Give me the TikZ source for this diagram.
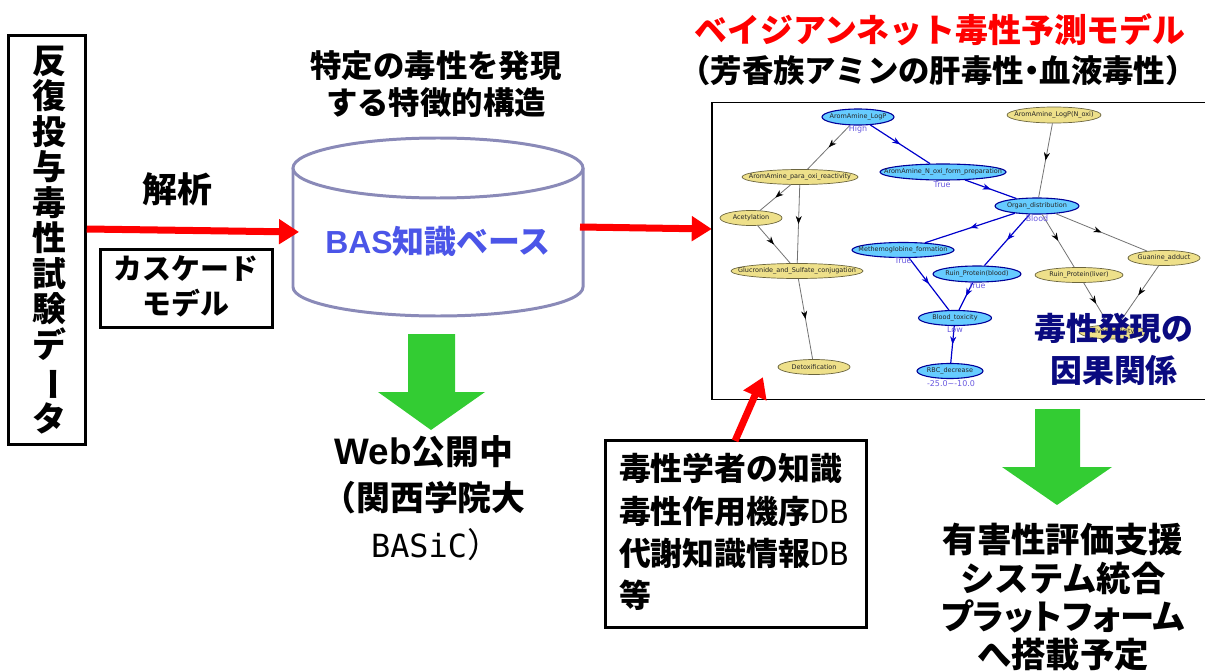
\documentclass[tikz,border=0pt]{standalone}
\usepackage{fontspec}
\setmainfont{Noto Sans CJK JP}
\newfontfamily\lat{DejaVu Sans}
\newfontfamily\arl{Liberation Sans}
\newfontfamily\mon{DejaVu Sans Mono}
\newfontfamily\pf[RawFeature=+palt]{Noto Sans CJK JP}
\usetikzlibrary{decorations.markings,arrows.meta,shapes.geometric}
\definecolor{navyt}{HTML}{0A0A80}
\definecolor{basblue}{HTML}{4B55E8}
\definecolor{cylc}{HTML}{8A8AB8}
\definecolor{nodeb}{HTML}{66CCFF}
\definecolor{nodey}{HTML}{EEE08A}
\definecolor{lab}{HTML}{6A5AE0}
\definecolor{gr}{HTML}{33CC33}
\newcommand{\T}[1]{\makebox[0pt]{#1}}
\tikzset{
  x=1bp,y=-1bp,
  tx/.style 2 args={inner sep=0,outer sep=0,align=center,font=\fontsize{#1}{#2}\selectfont\bfseries},
  box/.style={draw=black,line width=2.5pt,fill=white},
  by/.style={ellipse,draw=black!55!nodey,line width=.7pt,fill=nodey,inner sep=0,text=black!85,font=\lat\fontsize{6.5}{7}\selectfont},
  bb/.style={ellipse,draw=blue!60!black,line width=1.1pt,fill=nodeb,inner sep=0,text=black!85,font=\lat\fontsize{6.5}{7}\selectfont},
  lb/.style={inner sep=0,text=lab,font=\lat\fontsize{8}{9}\selectfont},
  ge/.style={draw=black!55,line width=.8pt,postaction={decorate},decoration={markings,mark=at position .5 with {\arrow[black,line width=.5pt]{Stealth[length=8bp,width=6bp]}}}},
  be/.style={draw=blue!80!black,line width=1.2pt,postaction={decorate},decoration={markings,mark=at position .5 with {\arrow[blue!80!black,line width=.5pt]{Stealth[length=8bp,width=6bp]}}}},
  redarr/.style={draw=red,line width=7bp,-{Triangle[length=20bp,width=24bp]}},
  grarr/.style={fill=gr,draw=none},
}
\begin{document}
\begin{tikzpicture}
\useasboundingbox (0,0) rectangle (1205,671);
% left box
\node[box,minimum width=77bp,minimum height=409bp] (left) at (47,240) {};
\node[tx={34}{35.6}] (lefttext) at (49,240) {反\\復\\投\\与\\毒\\性\\試\\験\\デ\\\rotatebox[origin=c]{-90}{ー}\\タ};
% cascade
\node[box,minimum width=172bp,minimum height=78bp] (casc) at (186.5,288.5) {};
\node[tx={29}{35}] (casctext) at (186,286) {カスケード\\モデル};
\node[tx={35}{35}] (kaiseki) at (177,189) {解析};
% cylinder
\coordinate (cylT) at (438,168);
\draw[cylc,line width=3pt,fill=white] (293,168) -- (293,287) arc[x radius=145,y radius=29,start angle=180,end angle=0] -- (583,168);
\draw[cylc,line width=3pt,fill=white] (cylT) ellipse[x radius=145,y radius=30];
\node[tx={32}{32},text=basblue] (bas) at (438,241) {{\arl BAS}知識ベース};
\coordinate (cylL) at (299,232);
\coordinate (cylR) at (580,227);
% red arrows
\draw[redarr] (left.east |- 0,229) -- (cylL);
\node[inner sep=0,minimum size=0] (frameL) at (712,229) {};
\draw[redarr] (cylR) -- (frameL);
% titles
\node[tx={33}{33},text=red] (title) at (940,30) {ベイジアンネット毒性予測モデル};
\node[tx={31.5}{32}] (sub) at (938,71) {（芳香族アミンの肝毒性\hspace{-.25em}・\hspace{-.25em}血液毒性）};
\node[tx={31.5}{37}] (feat) at (436,84) {特定の毒性を発現\\する特徴的構造};
% frame
\node[draw=black,line width=2pt,fill=white,minimum width=500bp,minimum height=297bp] (frame) at (962,251) {};
% graph nodes
\node[bb,minimum width=72bp,minimum height=16bp] (n1) at (858,117) {\T{AromAmine\_LogP}};
\node[by,minimum width=94bp,minimum height=16bp] (n2) at (1054,115) {\T{AromAmine\_LogP(N\_oxi)}};
\node[by,minimum width=116bp,minimum height=15bp] (n3) at (800,177) {\T{AromAmine\_para\_oxi\_reactivity}};
\node[bb,minimum width=126bp,minimum height=16bp] (n4) at (943,172) {\T{AromAmine\_N\_oxi\_form\_preparation}};
\node[by,minimum width=62bp,minimum height=15bp] (n5) at (751,218) {\T{Acetylation}};
\node[bb,minimum width=84bp,minimum height=16bp] (n6) at (1037,206) {\T{Organ\_distribution}};
\node[by,minimum width=132bp,minimum height=15bp] (n7) at (797,271) {\T{Glucronide\_and\_Sulfate\_conjugation}};
\node[bb,minimum width=102bp,minimum height=15bp] (n8) at (903,250) {\T{Methemoglobine\_formation}};
\node[bb,minimum width=88bp,minimum height=16bp] (n9) at (977,274) {\T{Ruin\_Protein(blood)}};
\node[by,minimum width=88bp,minimum height=15bp] (n10) at (1079,275) {\T{Ruin\_Protein(liver)}};
\node[by,minimum width=72bp,minimum height=15bp] (n11) at (1164,258) {\T{Guanine\_adduct}};
\node[bb,minimum width=73bp,minimum height=15bp] (n12) at (955,318) {\T{Blood\_toxicity}};
\node[by,minimum width=72bp,minimum height=15bp] (n13) at (814,367) {\T{Detoxification}};
\node[bb,minimum width=66bp,minimum height=15bp] (n14) at (950,371) {\T{RBC\_decrease}};
\node[by,minimum width=68bp,minimum height=14bp] (n15) at (1113,332) {\T{Liver\_toxicity}};
% graph edges
\path[ge] (n1) -- (n3);
\path[ge] (n3) -- (n5);
\path[ge] (n3) -- (n7);
\path[ge] (n5) -- (n7);
\path[ge] (n7) -- (n13);
\path[ge] (n2) -- (n6);
\path[ge] (n6) -- (n10);
\path[ge] (n6) -- (n11);
\path[ge] (n10) -- (n15);
\path[ge] (n11) -- (n15);
\path[be] (n1) -- (n4);
\path[be] (n4) -- (n6);
\path[be] (n6) -- (n8);
\path[be] (n6) -- (n9);
\path[be] (n8) -- (n12);
\path[be] (n9) -- (n12);
\path[be] (n12) -- (n14);
% graph labels
\node[lb] (l1) at (858,129) {High};
\node[lb] (l2) at (942,185) {True};
\node[lb] (l3) at (1037,219) {Blood};
\node[lb] (l4) at (903,261) {True};
\node[lb] (l5) at (977,286) {True};
\node[lb] (l6) at (955,330) {Low};
\node[lb] (l7) at (951,384) {-25.0\textasciitilde{}-10.0};
\node[tx={32}{42},text=navyt] (cause) at (1114,349) {毒性発現の\\因果関係};
% expert box
\node[box,minimum width=261bp,minimum height=187bp] (exp) at (736,534) {};
\node[inner sep=0,minimum size=0] (fr2) at (763,377) {};
\node[inner sep=0,minimum size=0] (exptop) at (735,441) {};
\draw[redarr] (exptop) -- (fr2);
\node[tx={32}{42.5},align=left,anchor=west] (exptext) at (619,532) {毒性学者の知識\\毒性作用機序{\mon\mdseries DB}\\代謝知識情報{\mon\mdseries DB}\\等};
% green arrows
\fill[grarr] (408,334) -- (455,334) -- (455,392) -- (485,392) -- (431,430) -- (378,392) -- (408,392) -- cycle;
\fill[grarr] (1035,409) -- (1080,409) -- (1080,467) -- (1112,467) -- (1057,505) -- (1002,467) -- (1035,467) -- cycle;
\node[tx={34}{46.5}] (web) at (424,498) {{\arl\fontsize{37}{46.5}\selectfont Web}公開中\\（関西学院大\\\hspace*{24bp}{\mon\mdseries\fontsize{32}{46.5}\selectfont BASiC}{\mdseries ）}};
\node[tx={34.5}{38.5}] (sys) at (1063,597.5) {有害性評価支援\\システム統合\\{\pf プラットフォーム}\\へ搭載予定};
\end{tikzpicture}
\end{document}
